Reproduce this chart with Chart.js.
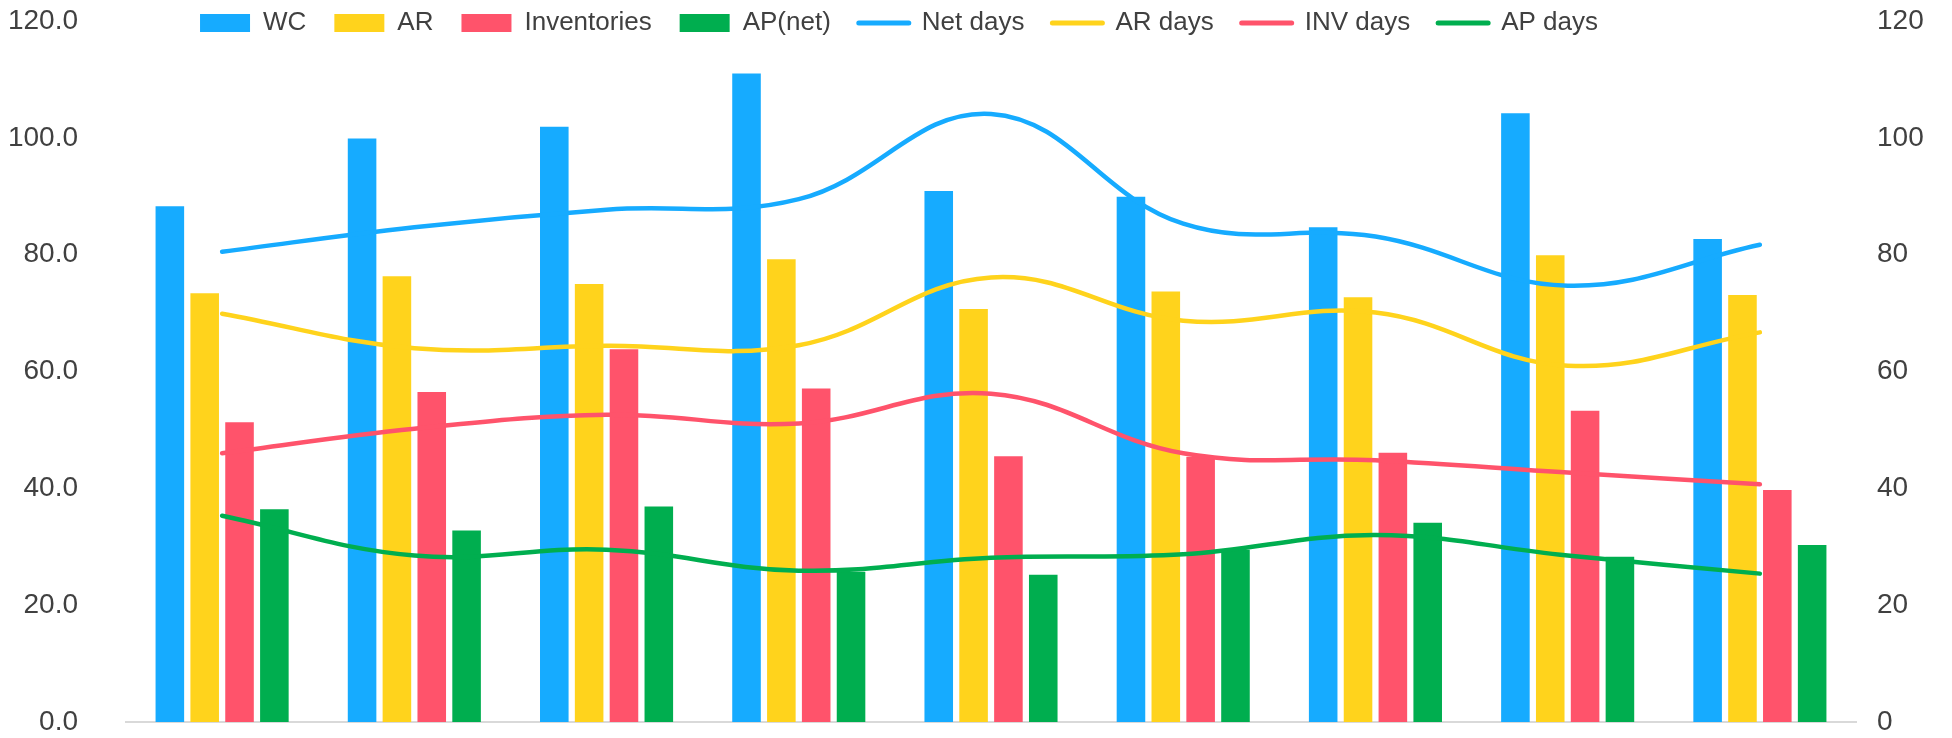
<!DOCTYPE html>
<html>
<head>
<meta charset="utf-8">
<script src="https://cdn.jsdelivr.net/npm/chart.js@4.4.1/dist/chart.umd.min.js"></script>
<style>
  html, body { margin: 0; padding: 0; background: #fff; }
  #wrap { width: 1952px; height: 738px; position: relative; }
</style>
</head>
<body>
<div id="wrap"><canvas id="chWc"></canvas></div>
<script>
/* working capital: amounts as bars (left axis), days as smooth lines (right axis) */

var periods = ['1', '2', '3', '4', '5', '6', '7', '8', '9'];

// bars
var wcValues  = [88.3, 99.9, 101.9, 111.0, 90.9, 89.9, 84.7, 104.2, 82.7];
var arValues  = [73.4, 76.3, 75.0, 79.2, 70.7, 73.7, 72.7, 79.9, 73.1];
var invValues = [51.3, 56.5, 63.8, 57.1, 45.5, 45.4, 46.1, 53.3, 39.7];
var apValues  = [36.4, 32.8, 36.9, 25.7, 25.2, 29.5, 34.1, 28.3, 30.3];

// lines (days)
var netDays = [80.5, 84.7, 87.7, 89.5, 104.1, 85.3, 83.1, 74.7, 81.7];
var arDays  = [69.9, 64.0, 64.4, 64.5, 76.1, 68.7, 70.1, 61.0, 66.7];
var invDays = [46.0, 50.2, 52.6, 51.1, 56.2, 46.0, 44.8, 42.7, 40.7];
var apDays  = [35.3, 28.5, 29.5, 25.9, 28.1, 28.7, 32.0, 28.5, 25.4];

// both axes share the same ticks
var axisTicks = [0, 20, 40, 60, 80, 100, 120];

// chart colors
var colWC = '#16abff';
var colAR = '#ffd31c';
var colInv = '#ff536b';
var colAP = '#00ae4f';
var textColor = '#404040';
var fontName = "'Liberation Sans', Arial, sans-serif";

function barSet(label, data, color) {
  return {
    type: 'bar',
    label: label,
    data: data,
    backgroundColor: color,
    borderWidth: 0,
    yAxisID: 'y',
    order: 1,
    categoryPercentage: 0.725,
    barPercentage: 0.82
  };
}

function lineSet(label, data, color) {
  return {
    type: 'line',
    label: label,
    data: data,
    borderColor: color,
    backgroundColor: color,
    borderWidth: 4.5,
    borderCapStyle: 'round',
    pointRadius: 0,
    tension: 0.4,
    fill: false,
    yAxisID: 'y1',
    order: 0
  };
}

// excel puts the legend on the same line as the top tick, so squeeze it
var legendY = -18;      // top of the legend box
var legendH = 21;       // space it takes from the plot
var legendShift = 67;   // legend sits a bit left of centre
var legendTweak = {
  id: 'legendTweak',
  beforeLayout: function (chart) {
    var lg = chart.legend;
    if (lg && !lg._squeezed) {
      var fit = lg.fit;
      lg.fit = function () {
        fit.call(this);
        this.height = legendH;
      };
      lg._squeezed = true;
    }
  },
  afterLayout: function (chart) {
    var lg = chart.legend;
    if (!lg) return;
    lg.top = legendY;
    lg.bottom = legendY + 80;  // legend clips to its box
    lg.left -= legendShift;
    lg.right -= legendShift;
  }
};

function useTicks(axis) {
  axis.ticks = axisTicks.map(function (v) { return { value: v }; });
}

// fixed axis widths, and no extra room above/below for the tick padding
function fixWidth(w) {
  return function (axis) {
    axis.width = w;
    axis.paddingTop = 0;
    axis.paddingBottom = 0;
  };
}

var chWc = document.getElementById('chWc');
new Chart(chWc, {
  data: {
    labels: periods,
    datasets: [
      barSet('WC', wcValues, colWC),
      barSet('AR', arValues, colAR),
      barSet('Inventories', invValues, colInv),
      barSet('AP(net)', apValues, colAP),
      lineSet('Net days', netDays, colWC),
      lineSet('AR days', arDays, colAR),
      lineSet('INV days', invDays, colInv),
      lineSet('AP days', apDays, colAP)
    ]
  },
  options: {
    responsive: true,
    maintainAspectRatio: false,
    animation: false,
    layout: {
      padding: { left: 8, right: 28, top: 0, bottom: 16 }
    },
    plugins: {
      tooltip: { enabled: false },
      legend: {
        display: true,
        position: 'top',
        labels: {
          color: textColor,
          font: { family: fontName, size: 26 },
          usePointStyle: true,
          pointStyleWidth: 50,
          boxHeight: 18,
          padding: 28,
          sort: function (a, b) { return a.datasetIndex - b.datasetIndex; },
          generateLabels: function (chart) {
            var items = Chart.defaults.plugins.legend.labels.generateLabels(chart);
            items.forEach(function (it) {
              var ds = chart.data.datasets[it.datasetIndex];
              if (ds.type === 'line') {
                it.pointStyle = 'line';
                it.lineWidth = 5;
                it.lineCap = 'round';
              } else {
                it.pointStyle = 'rect';
                it.lineWidth = 0;
              }
            });
            return items;
          }
        }
      }
    },
    scales: {
      x: {
        grid: { display: false, drawTicks: false },
        ticks: { display: false },
        border: { display: true, color: '#d9d9d9', width: 2 },
        afterFit: function (axis) { axis.height = 0; }
      },
      y: {
        position: 'left',
        min: 0,
        max: 120,
        afterBuildTicks: useTicks,
        afterFit: fixWidth(118),
        grid: { display: false, drawTicks: false },
        border: { display: false },
        ticks: {
          color: textColor,
          padding: 48,
          font: { family: fontName, size: 28 },
          callback: function (v) { return Number(v).toFixed(1); }
        }
      },
      y1: {
        position: 'right',
        min: 0,
        max: 120,
        afterBuildTicks: useTicks,
        afterFit: fixWidth(68),
        grid: { display: false, drawTicks: false },
        border: { display: false },
        ticks: {
          color: textColor,
          padding: 21,
          font: { family: fontName, size: 28 }
        }
      }
    }
  },
  plugins: [legendTweak]
});
</script>
</body>
</html>
